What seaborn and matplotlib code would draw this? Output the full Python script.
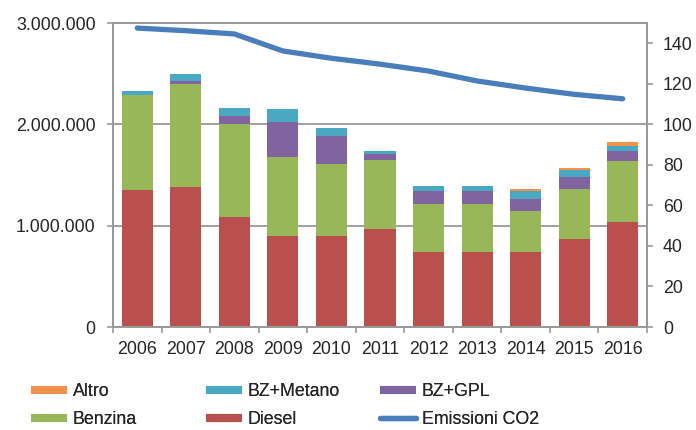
import numpy as np
import pandas as pd
import matplotlib
matplotlib.use("Agg")
import matplotlib.pyplot as plt
from matplotlib.lines import Line2D
from matplotlib.ticker import FuncFormatter, FixedLocator
import seaborn as sns

# ---- data ----
years = ["2006", "2007", "2008", "2009", "2010", "2011", "2012", "2013", "2014", "2015", "2016"]
diesel = [1349000, 1385000, 1089000, 898000, 898000, 964000, 743000, 743000, 743000, 872000, 1036000]
benzina = [940000, 1013000, 914000, 783000, 714000, 684000, 468000, 468000, 398000, 487000, 602000]
bz_gpl = [5000, 30000, 76000, 342000, 276000, 56000, 131000, 131000, 119000, 121000, 96000]
bz_metano = [32000, 65000, 82000, 128000, 73000, 36000, 53000, 53000, 79000, 69000, 49000]
altro = [0, 0, 0, 0, 0, 0, 0, 0, 20000, 23000, 39000]
co2 = [147.5, 146.2, 144.6, 136.2, 132.6, 129.7, 126.3, 121.4, 117.9, 114.8, 112.6]

labels = ["Diesel", "Benzina", "BZ+GPL", "BZ+Metano", "Altro"]
colors = {"Diesel": "#B9504D", "Benzina": "#98B758", "BZ+GPL": "#7F64A0",
          "BZ+Metano": "#4AA8C2", "Altro": "#F0924A"}
co2_color = "#4A7EBB"
grid_gray = "#999999"

sns.set_style("white")
plt.rcParams["font.family"] = ["Liberation Sans", "DejaVu Sans"]
plt.rcParams["font.size"] = 12.8

fig = plt.figure(figsize=(6.96, 4.30), dpi=100)
ax = fig.add_axes([113 / 696, 1 - 327 / 430, (647 - 113) / 696, (327 - 23) / 430])

series = [diesel, benzina, bz_gpl, bz_metano, altro]
cum = np.cumsum(np.array(series, dtype=float), axis=0)
df = pd.DataFrame({"year": years})
for name, c in zip(labels, cum):
    df[name] = c

# draw from the top layer down so lower layers cover the upper cumulative bars
for name in labels[::-1]:
    sns.barplot(data=df, x="year", y=name, color=colors[name], saturation=1,
                width=0.64, linewidth=0, ax=ax, zorder=2)

ax.set_ylim(0, 3000000)
ax.set_xlim(-0.5, len(years) - 0.5)
ax.set_xlabel("")
ax.set_ylabel("")
ax.yaxis.set_major_locator(FixedLocator([0, 1000000, 2000000, 3000000]))
ax.yaxis.set_major_formatter(FuncFormatter(lambda v, p: f"{int(v):,}".replace(",", ".")))
ax.yaxis.grid(True, color=grid_gray, linewidth=1.3)
ax.set_axisbelow(True)
ax.tick_params(axis="y", which="major", direction="out", length=4.5, width=1.2,
               color=grid_gray, pad=8, left=True)
ax.xaxis.set_minor_locator(FixedLocator(np.arange(-0.5, len(years), 1.0)))
ax.tick_params(axis="x", which="major", length=0, pad=10)
ax.tick_params(axis="x", which="minor", direction="out", length=4.5, width=1.2,
               color=grid_gray, bottom=True)
for s in ax.spines.values():
    s.set_color(grid_gray)
    s.set_linewidth(1.3)

ax2 = ax.twinx()
x_pos = np.arange(len(years))
sns.lineplot(x=x_pos, y=co2, ax=ax2, color=co2_color, linewidth=3.8,
             solid_capstyle="round", legend=False)
ax2.set_ylim(0, 150)
ax2.set_xlim(-0.5, len(years) - 0.5)
ax2.yaxis.set_major_locator(FixedLocator(np.arange(0, 141, 20)))
ax2.tick_params(axis="y", direction="out", length=4.5, width=1.2, color=grid_gray, pad=7)
ax2.set_ylabel("")
for s in ax2.spines.values():
    s.set_color(grid_gray)
    s.set_linewidth(1.3)

# ---- legend: three columns placed like the reference ----
def patch_handle(name):
    return Line2D([], [], color=colors[name], linewidth=5.8, solid_capstyle="butt")

col_items = [
    [(patch_handle("Altro"), "Altro"), (patch_handle("Benzina"), "Benzina")],
    [(patch_handle("BZ+Metano"), "BZ+Metano"), (patch_handle("Diesel"), "Diesel")],
    [(patch_handle("BZ+GPL"), "BZ+GPL"),
     (Line2D([], [], color=co2_color, linewidth=3.8, solid_capstyle="round"), "Emissioni CO2")],
]
col_x = [31 / 696, 206 / 696, 380 / 696]
for xpos, items in zip(col_x, col_items):
    leg = fig.legend([h for h, _ in items], [l for _, l in items], loc="upper left",
                     bbox_to_anchor=(xpos, 1 - 383 / 430), frameon=False,
                     borderpad=0, borderaxespad=0, handlelength=2.0,
                     handletextpad=0.35, labelspacing=0.62, fontsize=12.8)
    fig.add_artist(leg)

fig.savefig("out.png", dpi=100)
